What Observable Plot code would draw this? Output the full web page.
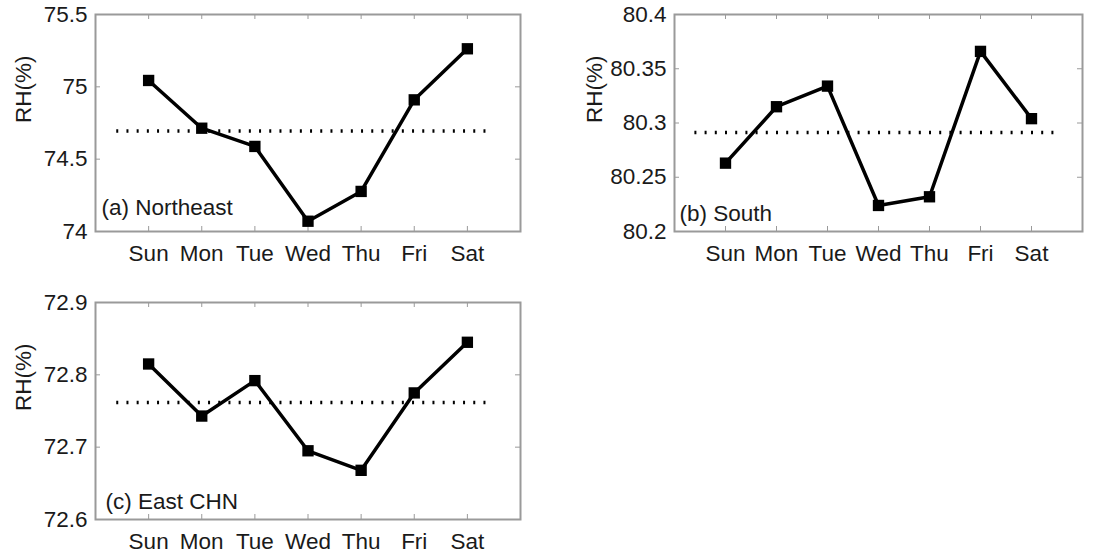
<!DOCTYPE html>
<html><head><meta charset="utf-8">
<script src="https://cdn.jsdelivr.net/npm/d3@7"></script>
<script src="https://cdn.jsdelivr.net/npm/@observablehq/plot@0.6"></script>
<style>
html,body{margin:0;padding:0;background:#fff;}
#wrap{position:relative;width:1100px;height:555px;overflow:hidden;background:#fff;}
#wrap svg{position:absolute;}
</style></head><body><div id="wrap"></div>
<script>
const days = ["Sun","Mon","Tue","Wed","Thu","Fri","Sat"];
const northeast = [75.044, 74.714, 74.588, 74.071, 74.277, 74.910, 75.263];
const south = [80.263, 80.315, 80.334, 80.224, 80.232, 80.366, 80.304];
const eastCHN = [72.815, 72.743, 72.792, 72.695, 72.668, 72.775, 72.845];
const panelLabels = ["(a) Northeast", "(b) South", "(c) East CHN"];
const yTicksA = [74, 74.5, 75, 75.5];
const yTicksB = [80.2, 80.25, 80.3, 80.35, 80.4];
const yTicksC = [72.6, 72.7, 72.8, 72.9];
const yLabel = "RH(%)";

const panels = [
  {values: northeast, label: panelLabels[0], ticks: yTicksA, domain: [74, 75.5],
   left: 0, top: 0, width: 540, height: 270, mt: 14, mr: 20, mb: 39, ml: 95, labDx: 6, labDy: -24, ylDx: -72},
  {values: south, label: panelLabels[1], ticks: yTicksB, domain: [80.2, 80.4],
   left: 560, top: 0, width: 540, height: 270, mt: 14, mr: 18, mb: 39, ml: 114, labDx: 5, labDy: -18, ylDx: -80},
  {values: eastCHN, label: panelLabels[2], ticks: yTicksC, domain: [72.6, 72.9],
   left: 0, top: 270, width: 540, height: 285, mt: 32, mr: 20, mb: 36, ml: 95, labDx: 10, labDy: -18, ylDx: -72}
];

const wrap = document.getElementById("wrap");
const dayIdx = days.map((d, i) => i + 1);
const grey = "#9a9a9a";
const ink = "#1a1a1a";
const fs = 22.5;
const tick = 5;

for (const p of panels) {
  const data = p.values.map((v, i) => ({i: i + 1, day: days[i], v}));
  const mean = d3.mean(p.values);
  const innerH = p.height - p.mt - p.mb;
  const innerW = p.width - p.ml - p.mr;
  const chart = Plot.plot({
    width: p.width, height: p.height,
    marginTop: p.mt, marginRight: p.mr, marginBottom: p.mb, marginLeft: p.ml,
    style: {fontFamily: "'Liberation Sans', Arial, sans-serif", fontSize: fs + "px", color: ink, background: "transparent"},
    x: {domain: [0, days.length + 1]},
    y: {domain: p.domain},
    marks: [
      Plot.frame({stroke: grey, strokeWidth: 2}),
      Plot.tickX(dayIdx, {x: d => d, insetTop: innerH - tick, stroke: grey}),
      Plot.tickX(dayIdx, {x: d => d, insetBottom: innerH - tick, stroke: grey}),
      Plot.tickY(p.ticks, {y: d => d, insetRight: innerW - tick, stroke: grey}),
      Plot.tickY(p.ticks, {y: d => d, insetLeft: innerW - tick, stroke: grey}),
      Plot.axisX(dayIdx, {anchor: "bottom", tickSize: 0, tickPadding: 14, tickFormat: i => days[i - 1], label: null, fontSize: fs}),
      Plot.axisY(p.ticks, {anchor: "left", tickSize: 0, tickPadding: 8, tickFormat: d => `${d}`, label: null, fontSize: fs}),
      Plot.ruleY([mean], {x1: dayIdx[0] - 0.6, x2: dayIdx[dayIdx.length - 1] + 0.5, stroke: "#000", strokeWidth: 3.5, strokeDasharray: "2,8.2"}),
      Plot.line(data, {x: "i", y: "v", stroke: "#000", strokeWidth: 3.5}),
      Plot.dot(data, {x: "i", y: "v", symbol: "square", r: 6.4, fill: "#000", stroke: null}),
      Plot.text([yLabel], {frameAnchor: "left", dx: p.ylDx, rotate: -90, text: d => d, fontSize: fs, fill: ink}),
      Plot.text([p.label], {frameAnchor: "bottom-left", dx: p.labDx, dy: p.labDy, textAnchor: "start", lineAnchor: "middle", text: d => d, fontSize: fs, fill: ink})
    ]
  });
  chart.style.left = p.left + "px";
  chart.style.top = p.top + "px";
  wrap.appendChild(chart);
}
</script>
</body></html>
